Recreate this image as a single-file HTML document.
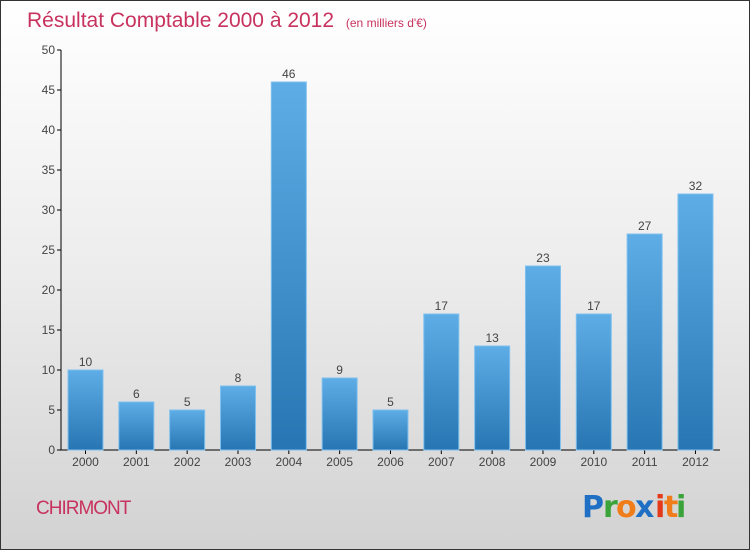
<!DOCTYPE html>
<html><head><meta charset="utf-8"><style>
body{margin:0;width:750px;height:550px;overflow:hidden;font-family:"Liberation Sans",sans-serif}
#wrap{position:absolute;left:0;top:0;width:748px;height:548px;border:1px solid #333;background:linear-gradient(#ffffff 0%,#ececec 50%,#d2d2d2 100%)}
</style></head><body>
<div id="wrap">
<svg width="750" height="550" style="position:absolute;left:-1px;top:-1px">
<defs><linearGradient id="bg" x1="0" y1="0" x2="0" y2="1"><stop offset="0" stop-color="#5eade6"/><stop offset="1" stop-color="#2776b3"/></linearGradient></defs>
<text x="27" y="27" font-size="21" fill="#c8325e">Résultat Comptable 2000 à 2012 <tspan font-size="12" dx="6">(en milliers d'€)</tspan></text>
<g id="axes"></g>
<g id="bars"></g>
<text x="36" y="514" font-size="19" fill="#c8325e" letter-spacing="-1">CHIRMONT</text>
<g font-size="30" font-weight="bold" font-family="'DejaVu Sans',sans-serif">
<text x="582" y="517" fill="#1f6fc4">P</text><text x="603" y="517" fill="#3aa33a">r</text><text x="616" y="517" fill="#f07d1a">o</text><text x="635" y="517" fill="#1f6fc4">x</text><text x="655" y="517" fill="#e53a1a">i</text><text x="664" y="517" fill="#f07d1a">t</text><text x="676" y="517" fill="#3aa33a">i</text>
</g>
</svg></div>
<script>
const categories=["2000","2001","2002","2003","2004","2005","2006","2007","2008","2009","2010","2011","2012"];
const values=[10,6,5,8,46,9,5,17,13,23,17,27,32];
const yTicks=[0,5,10,15,20,25,30,35,40,45,50];
const NS="http://www.w3.org/2000/svg";
const y=v=>450-v*8;
const x=i=>85.5+i*50.83;
function mk(t,a,p){const e=document.createElementNS(NS,t);for(const k in a)e.setAttribute(k,a[k]);p.appendChild(e);return e;}
const ax=document.getElementById('axes'),bs=document.getElementById('bars');
const yl=mk('line',{x1:61,y1:50,x2:61,y2:450,stroke:'#000'},ax);


const xl=mk('line',{x1:61,y1:450,x2:720,y2:450,stroke:'#000'},ax);


yTicks.forEach(v=>{
 mk('line',{x1:57,y1:y(v),x2:61,y2:y(v),stroke:'#000'},ax);
 const t=mk('text',{x:55,y:y(v)+4,'font-size':12,'text-anchor':'end',fill:'#444'},ax);t.textContent=v;
 
 
});
categories.forEach((c,i)=>{
 const v=values[i];
 const r=mk('rect',{x:x(i)-17.5,y:y(v),width:35,height:v*8,fill:'url(#bg)',stroke:'#7fc0ee','stroke-width':1},bs);
 
 
 mk('line',{x1:x(i),y1:450,x2:x(i),y2:454,stroke:'#000'},ax);
 const t=mk('text',{x:x(i),y:466,'font-size':12,'text-anchor':'middle',fill:'#444'},ax);t.textContent=c;
 
 
 const l=mk('text',{x:x(i),y:y(v)-4,'font-size':12,'text-anchor':'middle',fill:'#444'},bs);l.textContent=v;
 
 
});
</script>
</body></html>
